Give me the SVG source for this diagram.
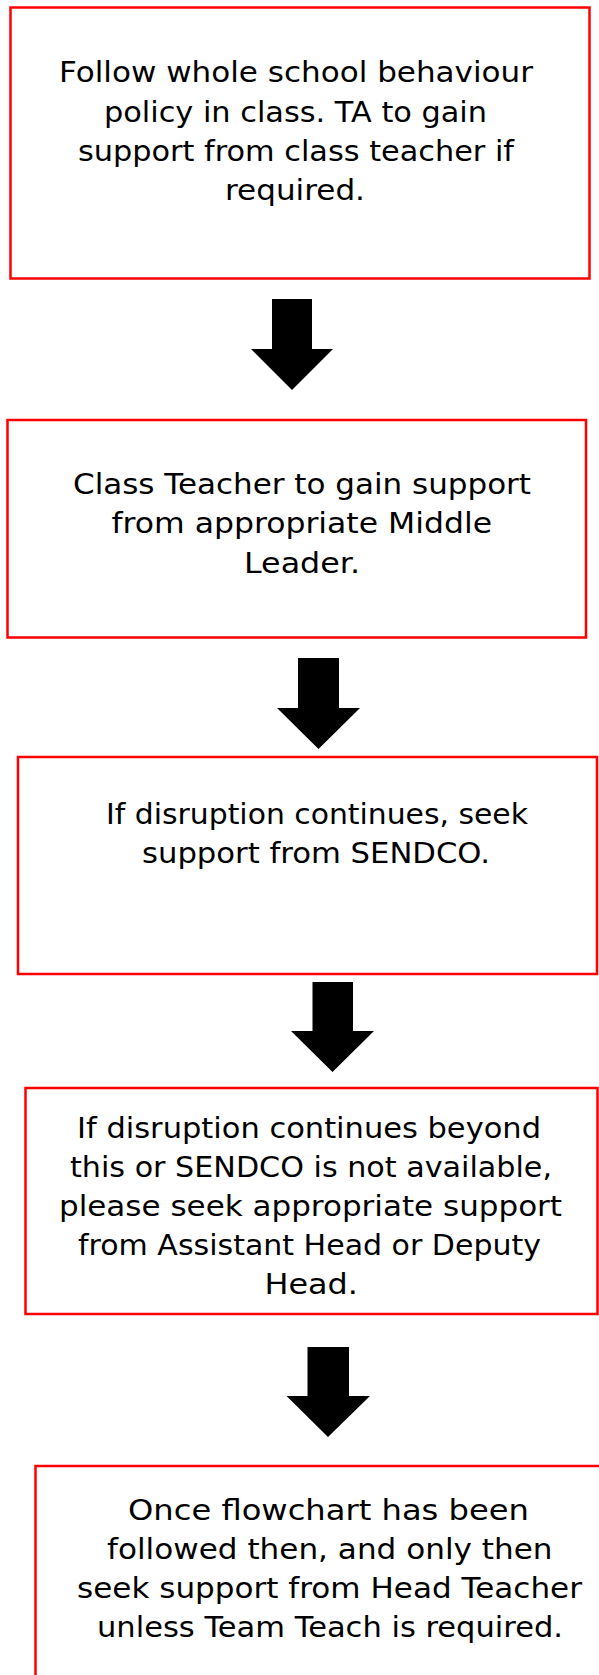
<svg xmlns="http://www.w3.org/2000/svg" width="599" height="1675" viewBox="0 0 599 1675">
<style>
.box{fill:#fff;stroke:#ff0000;stroke-width:2.5}
.t{font-family:"DejaVu Sans","Liberation Sans",sans-serif;font-size:27.5px;fill:#000}
.arr{fill:#000}
</style>
<rect x="0" y="0" width="599" height="1675" fill="#fff"/>
<g id="connectors">
<polygon class="arr" points="272,299 312,299 312,349 333,349 292,390 251,349 272,349"/>
<polygon class="arr" points="298,658 339,658 339,708 360,708 318.5,749 277,708 298,708"/>
<polygon class="arr" points="312.5,982 353,982 353,1031 374,1031 332.5,1072 291,1031 312.5,1031"/>
<polygon class="arr" points="307.5,1347 349,1347 349,1396 370,1396 328,1437 286.5,1396 307.5,1396"/>
</g>
<g id="node1">
<rect class="box" x="10.5" y="7.5" width="579" height="271"/>
<text class="t" x="59" y="82" textLength="474" lengthAdjust="spacingAndGlyphs">Follow whole school behaviour</text>
<text class="t" x="104" y="122" textLength="383" lengthAdjust="spacingAndGlyphs">policy in class. TA to gain</text>
<text class="t" x="78" y="161" textLength="436" lengthAdjust="spacingAndGlyphs">support from class teacher if</text>
<text class="t" x="225" y="200" textLength="140" lengthAdjust="spacingAndGlyphs">required.</text>
</g>
<g id="node2">
<rect class="box" x="7.5" y="420" width="578.5" height="217.5"/>
<text class="t" x="73" y="494" textLength="458" lengthAdjust="spacingAndGlyphs">Class Teacher to gain support</text>
<text class="t" x="111.5" y="533" textLength="380.5" lengthAdjust="spacingAndGlyphs">from appropriate Middle</text>
<text class="t" x="244" y="573" textLength="116" lengthAdjust="spacingAndGlyphs">Leader.</text>
</g>
<g id="node3">
<rect class="box" x="18" y="757" width="579" height="217"/>
<text class="t" x="106" y="824" textLength="422" lengthAdjust="spacingAndGlyphs">If disruption continues, seek</text>
<text class="t" x="142" y="863" textLength="348" lengthAdjust="spacingAndGlyphs">support from SENDCO.</text>
</g>
<g id="node4">
<rect class="box" x="25.5" y="1088" width="572" height="226"/>
<text class="t" x="77" y="1138" textLength="464" lengthAdjust="spacingAndGlyphs">If disruption continues beyond</text>
<text class="t" x="70" y="1177" textLength="482" lengthAdjust="spacingAndGlyphs">this or SENDCO is not available,</text>
<text class="t" x="59" y="1216" textLength="503" lengthAdjust="spacingAndGlyphs">please seek appropriate support</text>
<text class="t" x="78" y="1255" textLength="463" lengthAdjust="spacingAndGlyphs">from Assistant Head or Deputy</text>
<text class="t" x="264.5" y="1294" textLength="93.5" lengthAdjust="spacingAndGlyphs">Head.</text>
</g>
<g id="node5">
<rect class="box" x="35.5" y="1466" width="600" height="300"/>
<text class="t" x="128" y="1520" textLength="401" lengthAdjust="spacingAndGlyphs">Once flowchart has been</text>
<text class="t" x="107" y="1559" textLength="445.5" lengthAdjust="spacingAndGlyphs">followed then, and only then</text>
<text class="t" x="77" y="1598" textLength="505" lengthAdjust="spacingAndGlyphs">seek support from Head Teacher</text>
<text class="t" x="97" y="1637" textLength="466" lengthAdjust="spacingAndGlyphs">unless Team Teach is required.</text>
</g>
</svg>
